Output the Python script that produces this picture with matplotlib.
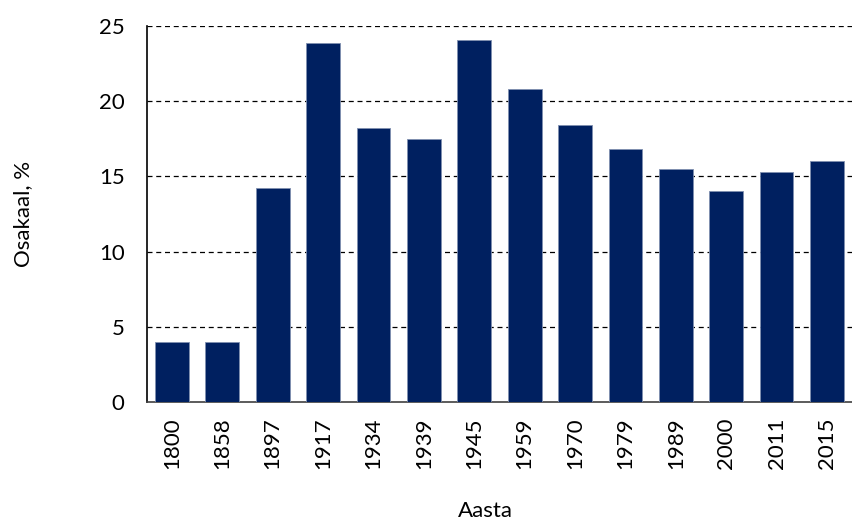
import numpy as np
import matplotlib.pyplot as plt

# data
years = ["1800", "1858", "1897", "1917", "1934", "1939", "1945",
         "1959", "1970", "1979", "1989", "2000", "2011", "2015"]
share = [4.0, 4.0, 14.2, 23.9, 18.2, 17.5, 24.1,
         20.8, 18.4, 16.8, 15.5, 14.0, 15.3, 16.0]
yticks = [0, 5, 10, 15, 20, 25]

plt.rcParams['font.family'] = ['Lato', 'DejaVu Sans']
plt.rcParams['font.size'] = 16

fig = plt.figure(figsize=(8.53, 5.22), dpi=100)
ax = fig.add_axes([0.172, 0.230, 0.827, 0.720])

x = np.arange(len(years))
ax.bar(x, share, width=0.67, color='#002060', edgecolor='#7f8fb0',
       linewidth=0.6, zorder=3)

ax.set_xlim(-0.5, len(years) - 0.5)
ax.set_ylim(0, 25)
ax.set_yticks(yticks)
ax.set_xticks(x)
ax.set_xticklabels(years, rotation=90)
ax.tick_params(axis='x', length=0, pad=11)
ax.tick_params(axis='y', length=0, pad=16)

# dashed horizontal gridlines
for t in yticks[1:]:
    ax.axhline(t, color='black', linestyle=(0, (4, 3)), linewidth=0.9, zorder=1)

for s in ['top', 'right']:
    ax.spines[s].set_visible(False)
ax.spines['left'].set_linewidth(1.2)
ax.spines['bottom'].set_linewidth(1.2)
ax.spines['bottom'].set_color('#404040')

ax.set_ylabel('Osakaal, %')
ax.yaxis.set_label_coords(-0.161, 0.5)
ax.set_xlabel('Aasta')
ax.xaxis.set_label_coords(0.48, -0.264)

fig.savefig('out.png', dpi=100)
